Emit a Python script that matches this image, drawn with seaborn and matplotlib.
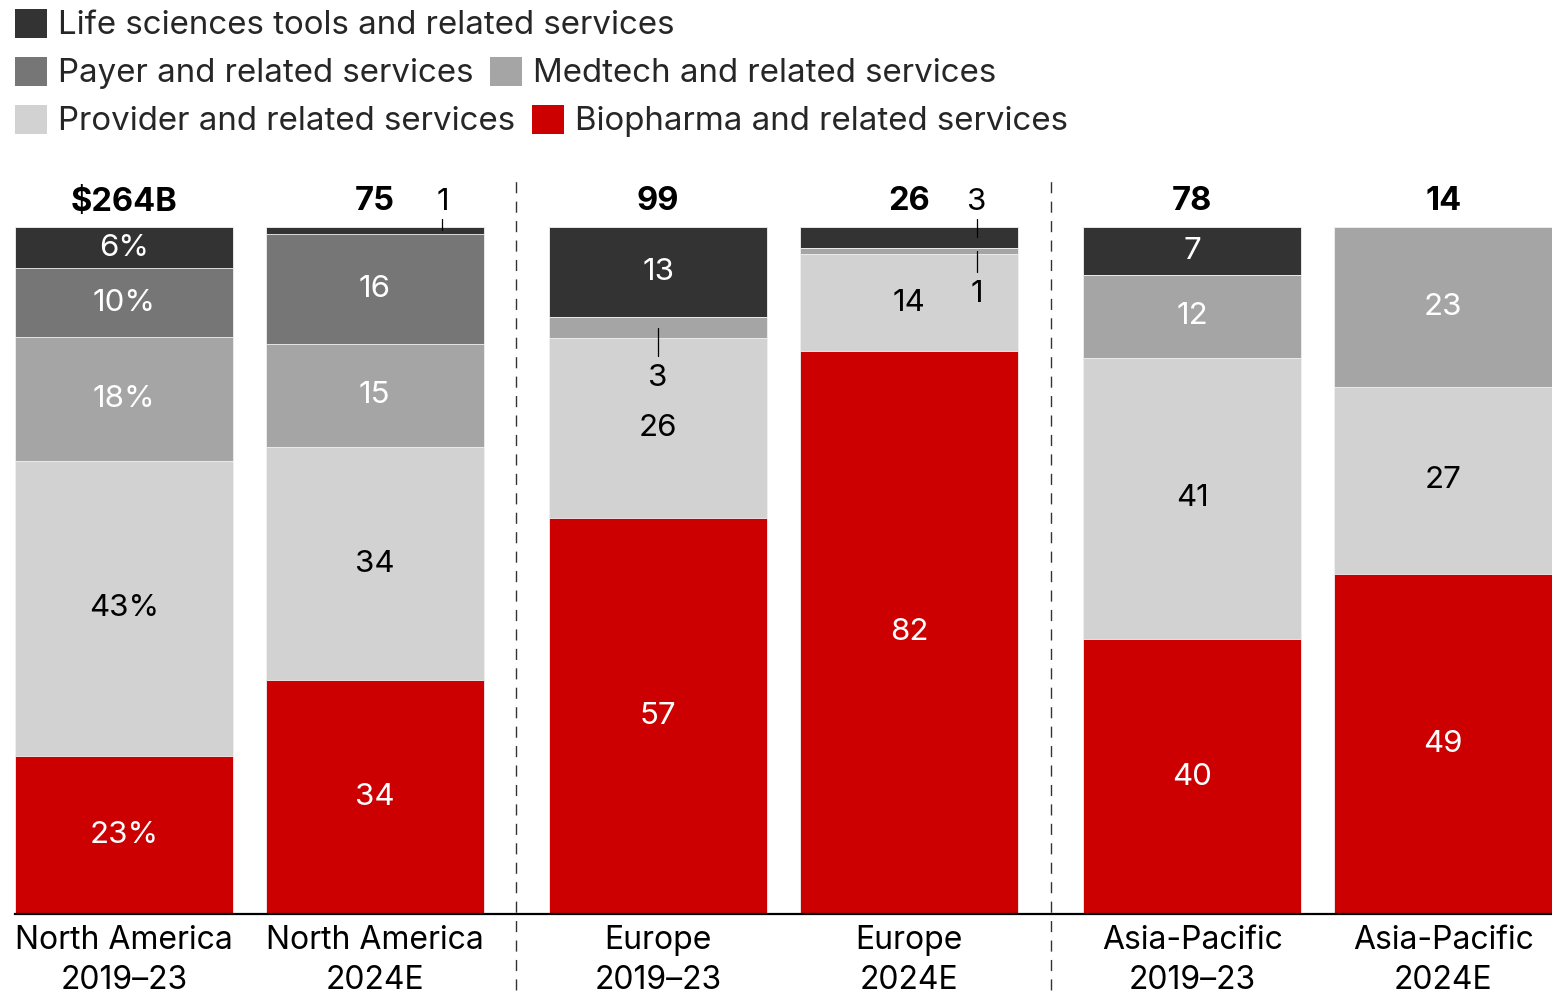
import matplotlib
matplotlib.use("Agg")
import matplotlib.pyplot as plt
from matplotlib.patches import Patch
import numpy as np
import pandas as pd
import seaborn as sns

# ---- data -------------------------------------------------------------
regions = ["North America", "North America", "Europe", "Europe",
           "Asia-Pacific", "Asia-Pacific"]
periods = ["2019–23", "2024E", "2019–23", "2024E", "2019–23", "2024E"]
region_group = [0, 0, 1, 1, 2, 2]
totals = ["$264B", "75", "99", "26", "78", "14"]

# segment shares, listed bottom-to-top of each stack
biopharma = [23, 34, 57, 82, 40, 49]
provider = [43, 34, 26, 14, 41, 27]
medtech = [18, 15, 3, 1, 12, 23]
payer = [10, 16, 0, 0, 0, 0]
life_sciences = [6, 1, 13, 3, 7, 0]

segment_names = [
    "Biopharma and related services",
    "Provider and related services",
    "Medtech and related services",
    "Payer and related services",
    "Life sciences tools and related services",
]
segment_colors = ["#cc0000", "#d2d2d2", "#a5a5a5", "#767676", "#333333"]
label_colors = ["white", "black", "white", "white", "white"]

# ---- style ------------------------------------------------------------
sns.set_theme(style="white")
plt.rcParams["font.family"] = ["Inter", "DejaVu Sans"]
FS_LABEL = 22.5
FS_TOTAL = 23.5
FS_TICK = 23
FS_LEGEND = 23.8

W, H = 1552, 996
fig = plt.figure(figsize=(W / 100, H / 100), dpi=100)
ax = fig.add_axes([15 / W, 82 / H, 1537 / W, 687 / H])

gap = 0.13
bar_width = 0.868
xpos = np.arange(len(regions)) + np.array(region_group) * gap

shares = np.array([biopharma, provider, medtech, payer, life_sciences], dtype=float)
pct = shares / shares.sum(axis=0) * 100
tops = np.cumsum(pct, axis=0)
bottoms = tops - pct

# stacked bars drawn as layers: full stack first, lower segments on top
for k in reversed(range(len(segment_names))):
    layer = pd.DataFrame({"x": xpos, "top": tops[k]})
    sns.barplot(data=layer, x="x", y="top", native_scale=True, width=bar_width,
                color=segment_colors[k], saturation=1, errorbar=None,
                edgecolor="#f2f2f2", linewidth=0.6, ax=ax)

ax.set_xlim(xpos[0] - bar_width / 2, xpos[-1] + bar_width / 2)
ax.set_ylim(0, 100)
PX = 100 / 687  # data units per pixel on the value axis

# ---- value labels -----------------------------------------------------
for i in range(len(regions)):
    top_small = any(shares[k, i] > 0 and pct[k, i] < 5 and tops[k, i] >= 99.99
                    for k in range(5))
    side = 0.27 if top_small else 0.0
    for k in range(5):
        v = shares[k, i]
        if v == 0:
            continue
        txt = f"{v:g}%" if i == 0 else f"{v:g}"
        mid = bottoms[k, i] + pct[k, i] / 2
        if pct[k, i] >= 5:
            ax.text(xpos[i], mid, txt, ha="center", va="center",
                    color=label_colors[k], fontsize=FS_LABEL)
        elif tops[k, i] >= 99.99:
            x = xpos[i] + side
            ax.plot([x, x], [mid, 100 + 8 * PX], color="black", lw=0.9,
                    clip_on=False, zorder=5)
            ax.text(x, 100 + 25 * PX, txt, ha="center", va="center",
                    color="black", fontsize=FS_LABEL)
        else:
            x = xpos[i] + side
            y_txt = bottoms[k, i] - 40 * PX
            ax.plot([x, x], [mid, y_txt + 22 * PX], color="black", lw=0.9,
                    zorder=5)
            ax.text(x, y_txt, txt, ha="center", va="center",
                    color="black", fontsize=FS_LABEL)

# totals above each bar
for i, t in enumerate(totals):
    ax.text(xpos[i], 100 + 25 * PX, t, ha="center", va="center",
            fontsize=FS_TOTAL, fontweight="bold", color="black")

# dashed separators between regions
for g in range(1, 3):
    left = xpos[np.array(region_group) == g - 1].max()
    right = xpos[np.array(region_group) == g].min()
    xd = (left + right) / 2
    ax.plot([xd, xd], [-11, 107], color="#333333", lw=1.0,
            linestyle=(0, (8, 6)), clip_on=False, zorder=0)

# ---- axes -------------------------------------------------------------
ax.set_xticks(xpos)
ax.set_xticklabels([f"{r}\n{p}" for r, p in zip(regions, periods)],
                   fontsize=FS_TICK, linespacing=1.36, color="black")
ax.tick_params(axis="x", length=0, pad=8)
ax.set_yticks([])
ax.set_xlabel("")
ax.set_ylabel("")
for s in ["left", "right", "top"]:
    ax.spines[s].set_visible(False)
ax.spines["bottom"].set_color("black")
ax.spines["bottom"].set_linewidth(1.6)
ax.spines["bottom"].set_zorder(6)

# ---- legend (three rows) ----------------------------------------------
rows = [[4], [3, 2], [1, 0]]
row_y = [25, 73, 121]
for idx, y in zip(rows, row_y):
    handles = [Patch(facecolor=segment_colors[k], edgecolor="none") for k in idx]
    labels = [segment_names[k] for k in idx]
    fig.legend(handles, labels, loc="center left",
               bbox_to_anchor=(15 / W, 1 - y / H), ncol=len(idx),
               frameon=False, fontsize=FS_LEGEND, handlelength=0.97,
               handleheight=0.97, handletextpad=0.33, columnspacing=0.5,
               borderpad=0, borderaxespad=0)

fig.savefig("out.png", dpi=100)
